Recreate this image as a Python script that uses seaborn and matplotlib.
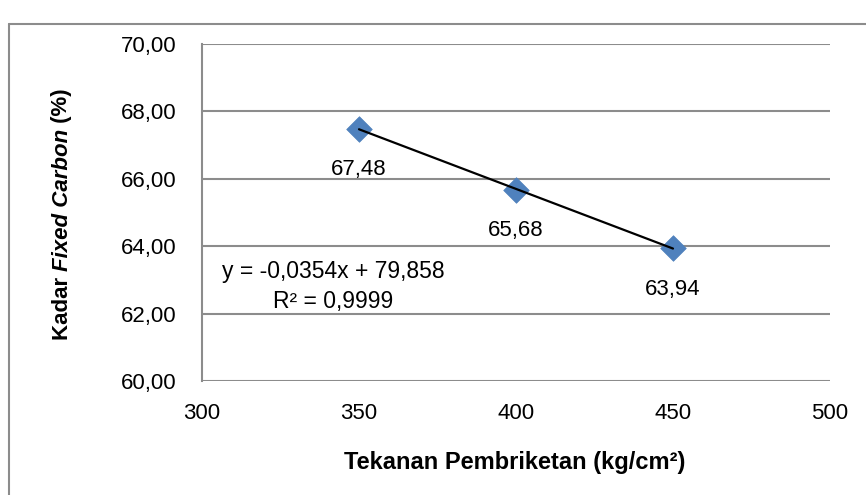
import numpy as np
import pandas as pd
import matplotlib
matplotlib.use("Agg")
import matplotlib.pyplot as plt
import seaborn as sns
from matplotlib.lines import Line2D

pressure = [350, 400, 450]
fixed_carbon = [67.48, 65.68, 63.94]
point_labels = ["67,48", "65,68", "63,94"]
x_ticks = [300, 350, 400, 450, 500]
y_ticks = [60, 62, 64, 66, 68, 70]
y_tick_labels = ["60,00", "62,00", "64,00", "66,00", "68,00", "70,00"]
equation_text = "y = -0,0354x + 79,858\nR² = 0,9999"

sns.set_style("white")
plt.rcParams["font.family"] = ["Liberation Sans", "DejaVu Sans"]
plt.rcParams["text.color"] = "black"
plt.rcParams["xtick.color"] = "black"
plt.rcParams["ytick.color"] = "black"

df = pd.DataFrame({"x": pressure, "y": fixed_carbon})
slope, intercept = np.polyfit(pressure, fixed_carbon, 1)
trend = pd.DataFrame({"x": [min(pressure), max(pressure)]})
trend["y"] = slope * trend["x"] + intercept

W, H = 866, 495
fig = plt.figure(figsize=(8.66, 4.95), dpi=100)
ax = fig.add_axes([202 / W, 1 - 381 / H, (830 - 202) / W, (381 - 44) / H])

grid_c = "#8c8c8c"
FS = 16
for v in y_ticks:
    ax.axhline(v, color=grid_c, lw=1.5, zorder=0)

sns.lineplot(data=trend, x="x", y="y", color="black", lw=1.6, ax=ax, zorder=3)
sns.scatterplot(data=df, x="x", y="y", marker="D", s=170, color="#4F81BD",
                edgecolor="#4F81BD", linewidth=0.5, ax=ax, zorder=2)

for xv, yv, lab in zip(pressure, fixed_carbon, point_labels):
    ax.annotate(lab, (xv, yv), xytext=(0, -29.5), textcoords="offset points",
                ha="center", va="center", fontsize=FS, color="black")

ax.text((333 - 202) / (830 - 202), (381 - 286.5) / (381 - 44), equation_text,
        ha="center", va="center", fontsize=16.5, linespacing=1.38,
        transform=ax.transAxes, color="black")

ax.set_xlim(300, 500)
ax.set_ylim(60, 70)
ax.set_xticks(x_ticks)
ax.set_xticklabels([str(t) for t in x_ticks])
ax.set_yticks(y_ticks)
ax.set_yticklabels(y_tick_labels)
ax.tick_params(axis="both", length=0, labelsize=FS, labelcolor="black")
ax.tick_params(axis="x", pad=16)
ax.tick_params(axis="y", pad=18)
for s in ["top", "right", "bottom"]:
    ax.spines[s].set_visible(False)
ax.spines["left"].set_color(grid_c)
ax.spines["left"].set_linewidth(1.5)
ax.set_xlabel("")
ax.set_ylabel("")

fig.text(515 / W, 1 - 463 / H, "Tekanan Pembriketan (kg/cm²)", ha="center",
         va="center", fontsize=17, fontweight="bold", color="black")

# y label pieces with italic part
fig.canvas.draw()
renderer = fig.canvas.get_renderer()
pieces = [("Kadar ", "normal"), ("Fixed Carbon", "italic"), (" (%)", "normal")]
xlab = 62 / W
texts = []
for s, st in pieces:
    t = fig.text(xlab, 0, s, rotation=90, ha="center", va="bottom",
                 fontsize=FS, fontweight="bold", fontstyle=st, color="black")
    texts.append(t)
heights = [t.get_window_extent(renderer).height for t in texts]
total = sum(heights)
center_y = H - 214
y0 = center_y - total / 2
for t, h in zip(texts, heights):
    t.set_position((xlab, y0 / H))
    y0 += h

fig.add_artist(Line2D([9 / W, 9 / W], [0, 1 - 24 / H], transform=fig.transFigure,
                      color=grid_c, lw=1.5))
fig.add_artist(Line2D([9 / W, 1], [1 - 24 / H, 1 - 24 / H], transform=fig.transFigure,
                      color=grid_c, lw=1.5))

fig.savefig("out.png", dpi=100)
